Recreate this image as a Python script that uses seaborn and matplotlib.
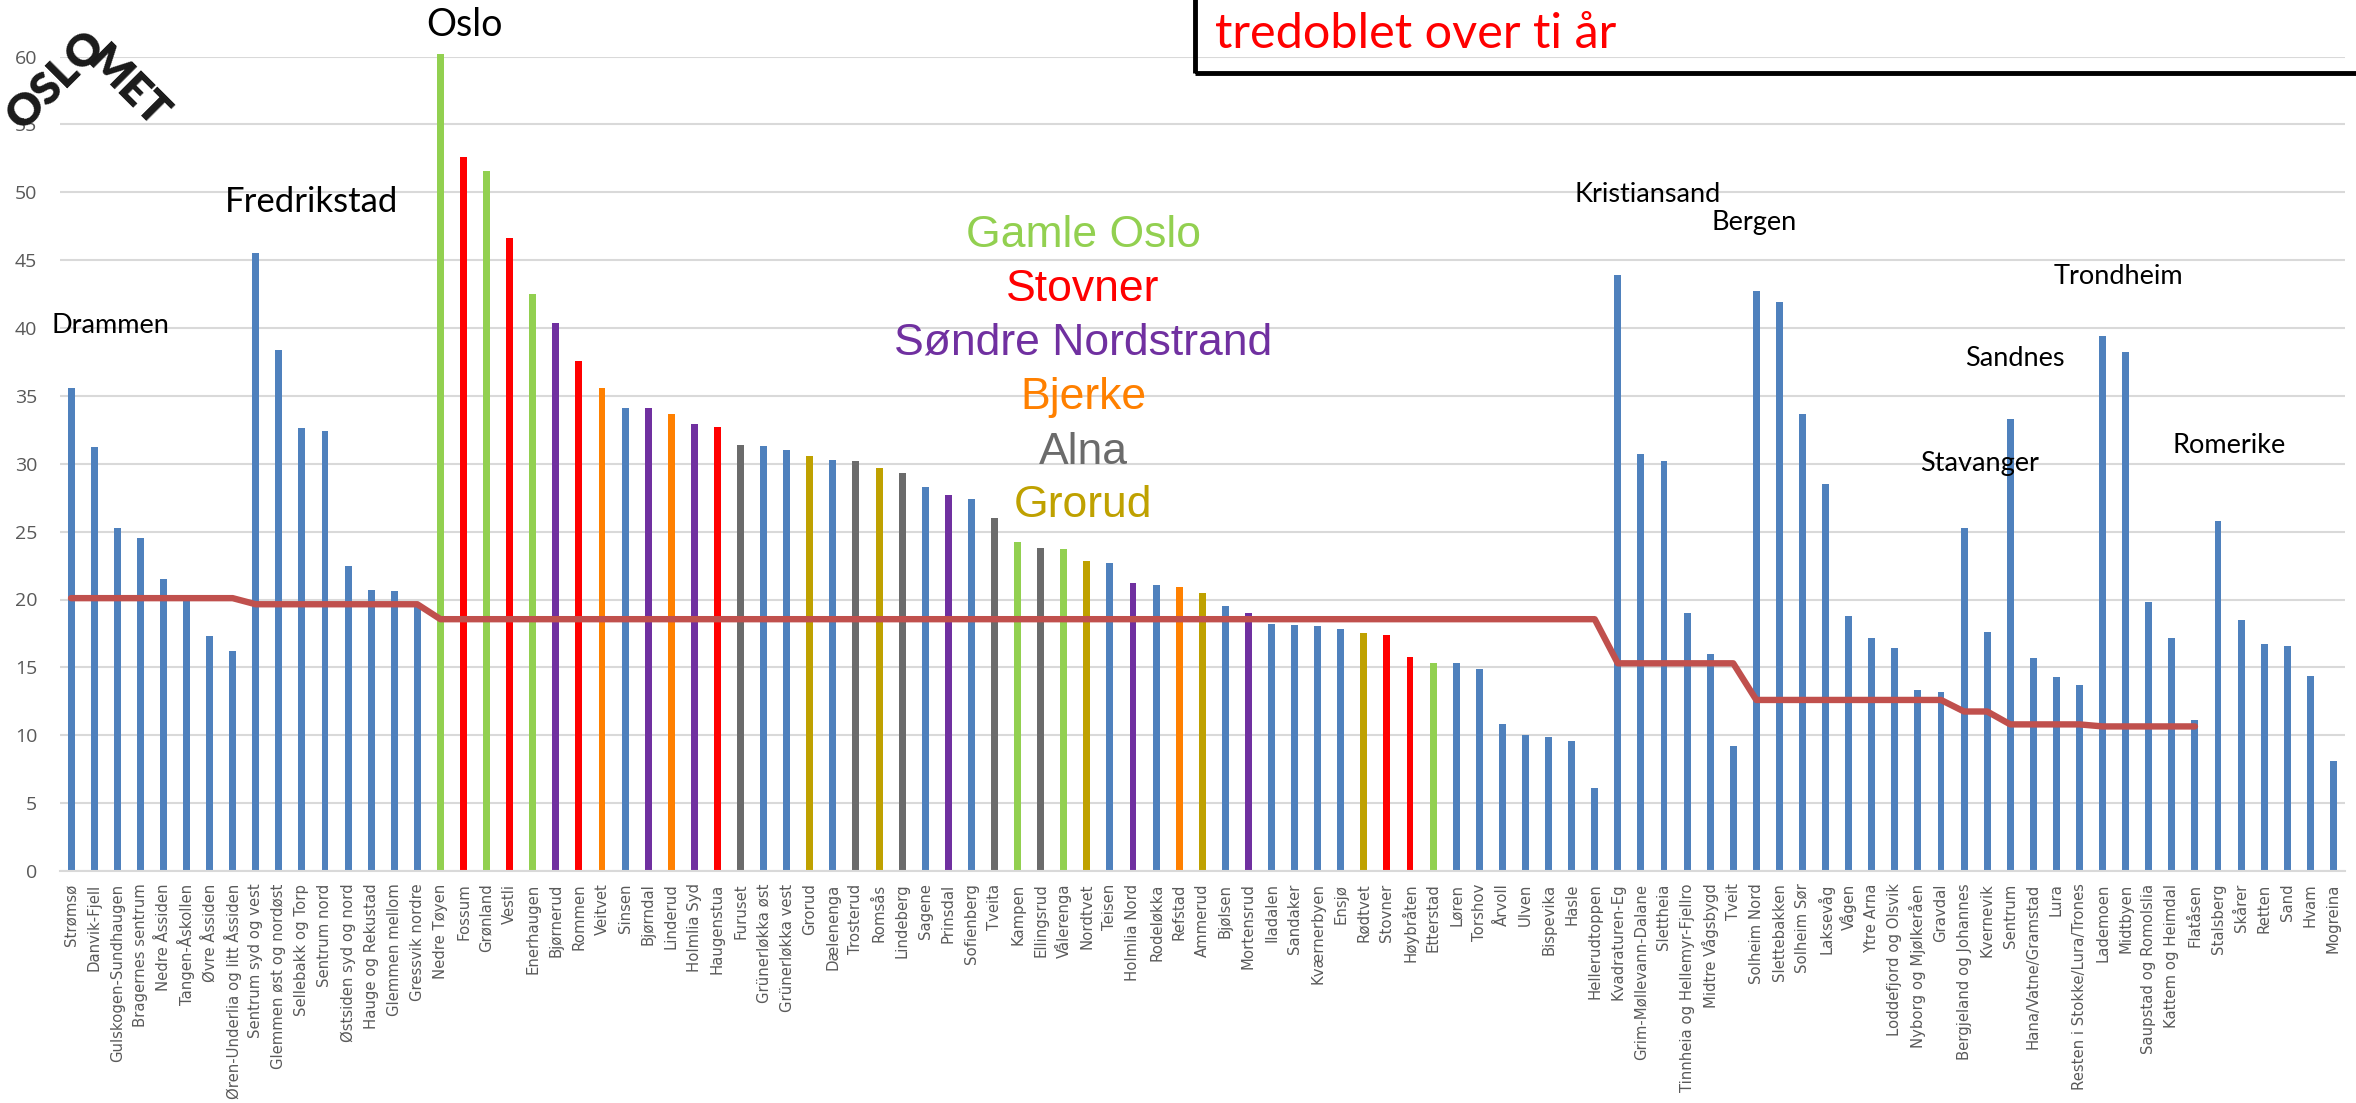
import numpy as np
import pandas as pd
import matplotlib
matplotlib.use("Agg")
import matplotlib.pyplot as plt
import seaborn as sns
from matplotlib.patches import Rectangle

# ---------------- data ----------------
drammen = ["Strømsø", "Danvik-Fjell", "Gulskogen-Sundhaugen", "Bragernes sentrum",
           "Nedre Åssiden", "Tangen-Åskollen", "Øvre Åssiden", "Øren-Underlia og litt Åssiden"]
drammen_val = [35.6, 31.2, 25.3, 24.5, 21.5, 20.0, 17.3, 16.2]

fredrikstad = ["Sentrum syd og vest", "Glemmen øst og nordøst", "Sellebakk og Torp", "Sentrum nord",
               "Østsiden syd og nord", "Hauge og Rekustad", "Glemmen mellom", "Gressvik nordre"]
fredrikstad_val = [45.5, 38.4, 32.6, 32.4, 22.5, 20.7, 20.6, 19.6]

oslo = ["Nedre Tøyen", "Fossum", "Grønland", "Vestli", "Enerhaugen", "Bjørnerud", "Rommen", "Veitvet",
        "Sinsen", "Bjørndal", "Linderud", "Holmlia Syd", "Haugenstua", "Furuset", "Grünerløkka øst",
        "Grünerløkka vest", "Grorud", "Dælenenga", "Trosterud", "Romsås", "Lindeberg", "Sagene",
        "Prinsdal", "Sofienberg", "Tveita", "Kampen", "Ellingsrud", "Vålerenga", "Nordtvet", "Teisen",
        "Holmlia Nord", "Rodeløkka", "Refstad", "Ammerud", "Bjølsen", "Mortensrud", "Iladalen",
        "Sandaker", "Kværnerbyen", "Ensjø", "Rødtvet", "Stovner", "Høybråten", "Etterstad", "Løren",
        "Torshov", "Årvoll", "Ulven", "Bispevika", "Hasle", "Hellerudtoppen"]
oslo_val = [60.2, 52.6, 51.6, 46.6, 42.5, 40.4, 37.6, 35.6, 34.1, 34.1, 33.7, 32.9, 32.7, 31.4, 31.3,
            31.0, 30.6, 30.3, 30.2, 29.7, 29.3, 28.3, 27.7, 27.4, 26.0, 24.2, 23.8, 23.7, 22.85, 22.7,
            21.2, 21.05, 20.9, 20.5, 19.5, 19.0, 18.2, 18.1, 18.05, 17.8, 17.5, 17.4, 15.8, 15.3, 15.3,
            14.9, 10.8, 10.0, 9.9, 9.6, 6.1]

kristiansand = ["Kvadraturen-Eg", "Grim-Møllevann-Dalane", "Slettheia", "Tinnheia og Hellemyr-Fjellro",
                "Midtre Vågsbygd", "Tveit"]
kristiansand_val = [43.9, 30.7, 30.2, 19.0, 16.0, 9.2]

bergen = ["Solheim Nord", "Slettebakken", "Solheim Sør", "Laksevåg", "Vågen", "Ytre Arna",
          "Loddefjord og Olsvik", "Nyborg og Mjølkeråen", "Gravdal"]
bergen_val = [42.7, 41.9, 33.7, 28.5, 18.8, 17.2, 16.4, 13.3, 13.2]

stavanger = ["Bergjeland og Johannes", "Kvernevik"]
stavanger_val = [25.3, 17.6]

sandnes = ["Sentrum", "Hana/Vatne/Gramstad", "Lura", "Resten i Stokke/Lura/Trones"]
sandnes_val = [33.3, 15.7, 14.3, 13.7]

trondheim = ["Lademoen", "Midtbyen", "Saupstad og Romolslia", "Kattem og Heimdal", "Flatåsen"]
trondheim_val = [39.4, 38.2, 19.8, 17.2, 11.1]

romerike = ["Stalsberg", "Skårer", "Retten", "Sand", "Hvam", "Mogreina"]
romerike_val = [25.8, 18.5, 16.7, 16.6, 14.4, 8.1]

# city averages (red line); Romerike has none
city_avg = {"Drammen": 20.1, "Fredrikstad": 19.65, "Oslo": 18.55, "Kristiansand": 15.3,
            "Bergen": 12.6, "Stavanger": 11.75, "Sandnes": 10.8, "Trondheim": 10.65, "Romerike": np.nan}

# Oslo districts highlighted
gamle_oslo = ["Nedre Tøyen", "Grønland", "Enerhaugen", "Kampen", "Vålerenga", "Etterstad"]
stovner = ["Fossum", "Vestli", "Rommen", "Haugenstua", "Stovner", "Høybråten"]
sondre_nordstrand = ["Bjørnerud", "Bjørndal", "Holmlia Syd", "Prinsdal", "Holmlia Nord", "Mortensrud"]
bjerke = ["Veitvet", "Linderud", "Refstad"]
alna = ["Furuset", "Trosterud", "Lindeberg", "Tveita", "Ellingsrud"]
grorud = ["Grorud", "Romsås", "Nordtvet", "Ammerud", "Rødtvet"]

district_labels = ["Gamle Oslo", "Stovner", "Søndre Nordstrand", "Bjerke", "Alna", "Grorud"]
district_colors = ["#92D050", "#FF0000", "#7030A0", "#FF8000", "#6B6B6B", "#BFA100"]
base_color = "#4F81BD"

# ---------------- assemble ----------------
cities = [("Drammen", drammen, drammen_val), ("Fredrikstad", fredrikstad, fredrikstad_val),
          ("Oslo", oslo, oslo_val), ("Kristiansand", kristiansand, kristiansand_val),
          ("Bergen", bergen, bergen_val), ("Stavanger", stavanger, stavanger_val),
          ("Sandnes", sandnes, sandnes_val), ("Trondheim", trondheim, trondheim_val),
          ("Romerike", romerike, romerike_val)]
members = [gamle_oslo, stovner, sondre_nordstrand, bjerke, alna, grorud]

names, vals, avg, grp = [], [], [], []
for city, nm, vl in cities:
    for a, b in zip(nm, vl):
        names.append(a)
        vals.append(b)
        avg.append(city_avg[city])
        g = "Annet"
        if city == "Oslo":
            for lab, mem in zip(district_labels, members):
                if a in mem:
                    g = lab
        grp.append(g)
n = len(names)
df = pd.DataFrame({"pos": np.arange(n), "value": vals, "group": grp})
palette = dict(zip(district_labels, district_colors))
palette["Annet"] = base_color

# ---------------- plot ----------------
sns.set_theme(style="white")
plt.rcParams['font.family'] = ['Open Sans', 'DejaVu Sans']

W, H = 2356, 1103
fig = plt.figure(figsize=(W / 100, H / 100), dpi=100)
ax = fig.add_axes([59.5 / W, (H - 871) / H, (2345 - 59.5) / W, (871 - 56.5) / H])

sns.barplot(data=df, x="pos", y="value", hue="group", palette=palette, dodge=False,
            width=0.3, saturation=1, legend=False, ax=ax, order=list(range(n)))
for p in ax.patches:
    p.set_clip_on(False)
    p.set_linewidth(0)

ax.plot(np.arange(n), avg, color="#C0504D", lw=4.6, zorder=4, solid_joinstyle="round")

ax.set_xlim(-0.5, n - 0.5)
ax.set_ylim(0, 60)
ax.set_yticks(range(0, 61, 5))
ax.yaxis.grid(True, color="#D9D9D9", lw=1.5)
ax.set_axisbelow(True)
for s in ["left", "right", "top"]:
    ax.spines[s].set_visible(False)
ax.spines["bottom"].set_color("#D9D9D9")
ax.spines["bottom"].set_linewidth(1.5)
ax.set_xticks(range(n))
ax.set_xticklabels(names, rotation=90, fontsize=10.7, color="#595959",
                   family=["DejaVu Sans"])
ax.tick_params(axis="x", length=0, pad=9)
ax.tick_params(axis="y", length=0, pad=16, labelsize=14, labelcolor="#595959")
ax.set_xlabel("")
ax.set_ylabel("")


def ftext(x, y, s, **kw):
    return fig.text(x / W, 1 - y / H, s, **kw)


# district labels
dist_y = [247, 301, 355, 409, 464, 517]
for lab, col, yy in zip(district_labels, district_colors, dist_y):
    ftext(1083, yy, lab, ha="center", va="baseline", fontsize=32, color=col,
          family=["Liberation Sans", "DejaVu Sans"])

# city labels
city_pos = [("Oslo", 465, 36, 27), ("Fredrikstad", 312, 212, 25), ("Drammen", 110, 333, 19.5),
            ("Kristiansand", 1648, 202, 19.5), ("Bergen", 1754, 230, 19.5),
            ("Trondheim", 2118, 284, 19.5), ("Sandnes", 2015, 366, 19.5),
            ("Stavanger", 1980, 471, 19.5), ("Romerike", 2229, 453, 19.5)]
for s, x, y, fs in city_pos:
    ftext(x, y, s, ha="center", va="baseline", fontsize=fs, color="black",
          family=["Lato", "DejaVu Sans"])

# boxed note (top cut off)
fig.add_artist(Rectangle((1195 / W, 1 - 73 / H), 0.6, 0.3, transform=fig.transFigure,
                         fill=False, edgecolor="black", lw=3.5, clip_on=False))
ftext(1215, 48, "tredoblet over ti år", ha="left", va="baseline", fontsize=35, color="#FF0000",
      family=["Lato", "DejaVu Sans"])

# logo
ftext(56, 80, "OSLO", rotation=45, ha="center", va="center", rotation_mode="anchor",
      fontsize=32, fontweight="heavy", color="#1A1A1A", family=["Lato", "DejaVu Sans"])
ftext(128, 87, "MET", rotation=-45, ha="center", va="center", rotation_mode="anchor",
      fontsize=32, fontweight="heavy", color="#1A1A1A", family=["Lato", "DejaVu Sans"])

fig.savefig("out.png", dpi=100)
